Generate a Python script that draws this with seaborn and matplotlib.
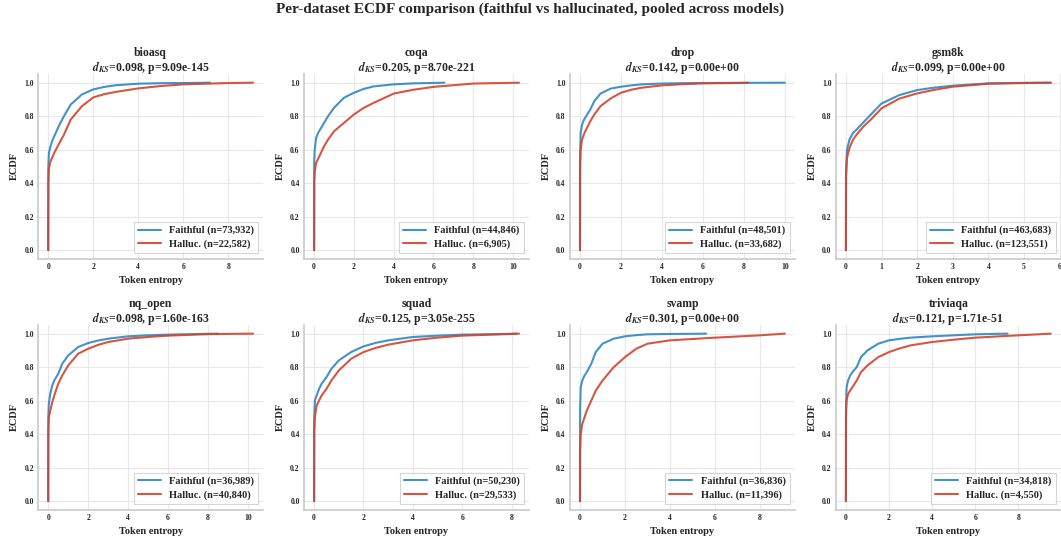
import numpy as np
import pandas as pd
import matplotlib
matplotlib.use("Agg")
import matplotlib.pyplot as plt
import seaborn as sns

# ---------------- data ----------------
DATASETS = ["bioasq", "coqa", "drop", "gsm8k", "nq_open", "squad", "svamp", "triviaqa"]
D_KS = [0.098, 0.205, 0.142, 0.099, 0.098, 0.125, 0.301, 0.121]
P_VALUES = ["9.09e-145", "8.70e-221", "0.00e+00", "0.00e+00",
            "1.60e-163", "3.05e-255", "0.00e+00", "1.71e-51"]
N_FAITHFUL = [73932, 44846, 48501, 463683, 36989, 50230, 36836, 34818]
N_HALLUC = [22582, 6905, 33682, 123551, 40840, 29533, 11396, 4550]

# shared entropy grid at which the ECDF was read
X_GRID = [0.0, 0.005, 0.03, 0.1, 0.2, 0.3, 0.5, 0.7, 1.0, 1.5, 2.0, 2.5, 3.0, 4.0, 5.0, 6.0, 8.0]

# faithful ECDF values on X_GRID (None = beyond the largest value)
FAITH_BIOASQ   = [0, .50, .58, .62, .66, .69, .75, .80, .87, .93, .96, .975, .985, .994, .997, .998, None]
FAITH_COQA     = [0, .52, .60, .67, .70, .72, .76, .80, .85, .91, .94, .963, .978, .99, .996, None, None]
FAITH_DROP     = [0, .55, .70, .75, .78, .80, .84, .89, .935, .965, .976, .984, .99, .995, .997, .998, .999]
FAITH_GSM8K    = [0, .48, .60, .66, .70, .72, .765, .81, .876, .926, .956, .971, .982, .996, .999, None, None]
FAITH_NQ_OPEN  = [0, .50, .58, .64, .69, .72, .76, .82, .87, .92, .944, .959, .97, .984, .99, .994, .999]
FAITH_SQUAD    = [0, .50, .60, .63, .67, .70, .74, .79, .84, .89, .924, .945, .96, .98, .988, .994, .999]
FAITH_SVAMP    = [0, .55, .68, .72, .75, .77, .82, .89, .94, .97, .984, .991, .996, .998, .999, None, None]
FAITH_TRIVIAQA = [0, .55, .68, .72, .75, .77, .80, .86, .90, .94, .96, .969, .976, .984, .99, .996, None]

# hallucinated ECDF values on X_GRID
HALL_BIOASQ   = [0, .40, .49, .53, .56, .59, .64, .69, .78, .86, .912, .932, .945, .966, .98, .99, .998]
HALL_COQA     = [0, .40, .47, .52, .545, .57, .62, .66, .71, .76, .81, .85, .88, .935, .958, .975, .995]
HALL_DROP     = [0, .50, .60, .66, .695, .72, .77, .81, .86, .906, .94, .958, .97, .984, .991, .996, .999]
HALL_GSM8K    = [0, .44, .55, .61, .66, .69, .74, .78, .847, .905, .936, .958, .976, .994, .998, None, None]
HALL_NQ_OPEN  = [0, .42, .50, .54, .59, .63, .70, .75, .81, .88, .91, .933, .95, .97, .98, .988, .997]
HALL_SQUAD    = [0, .42, .50, .57, .60, .63, .67, .72, .78, .85, .89, .915, .934, .96, .976, .988, .998]
HALL_SVAMP    = [0, .30, .40, .46, .50, .54, .60, .66, .72, .80, .86, .91, .94, .96, .968, .976, .99]
HALL_TRIVIAQA = [0, .50, .60, .64, .66, .68, .72, .77, .81, .86, .89, .912, .93, .95, .964, .976, .99]

# largest entropy observed in each group (ECDF reaches 1.0 there)
MAX_FAITH = [7.2, 6.55, 10.0, 5.75, 8.5, 8.2, 5.6, 7.5]
MAX_HALL = [9.1, 10.3, 8.2, 5.75, 10.25, 8.3, 9.1, 9.5]

FAITH_VALUES = [FAITH_BIOASQ, FAITH_COQA, FAITH_DROP, FAITH_GSM8K,
                FAITH_NQ_OPEN, FAITH_SQUAD, FAITH_SVAMP, FAITH_TRIVIAQA]
HALL_VALUES = [HALL_BIOASQ, HALL_COQA, HALL_DROP, HALL_GSM8K,
               HALL_NQ_OPEN, HALL_SQUAD, HALL_SVAMP, HALL_TRIVIAQA]

# ---------------- style ----------------
sns.set_theme(style="whitegrid")
plt.rcParams.update({
    "font.family": ["Liberation Serif", "DejaVu Serif"],
    "font.weight": "bold",
    "axes.labelweight": "bold",
    "axes.titleweight": "bold",
    "mathtext.fontset": "stix",
    "axes.edgecolor": "#cccccc",
    "grid.color": "#e8e8e8",
    "grid.linewidth": 0.8,
})

BLUE = "#2f86c3"
RED = "#d2442e"


def curve(values, xmax):
    xs, ys = [], []
    for x, y in zip(X_GRID, values):
        if y is None or x >= xmax:
            continue
        xs.append(x)
        ys.append(y)
    xs.append(xmax)
    ys.append(1.0)
    return xs, ys


fig, axes = plt.subplots(2, 4, figsize=(10.61, 5.37), dpi=100)
fig.subplots_adjust(left=0.0358, right=1.0, top=0.8616, bottom=0.0512,
                    wspace=0.18, hspace=0.362)

for i, name in enumerate(DATASETS):
    ax = axes.flat[i]
    fx, fy = curve(FAITH_VALUES[i], MAX_FAITH[i])
    hx, hy = curve(HALL_VALUES[i], MAX_HALL[i])
    lab_f = f"Faithful (n={N_FAITHFUL[i]:,})"
    lab_h = f"Halluc. (n={N_HALLUC[i]:,})"
    df = pd.DataFrame({
        "Token entropy": fx + hx,
        "ECDF": fy + hy,
        "group": [lab_f] * len(fx) + [lab_h] * len(hx),
    })
    sns.lineplot(data=df, x="Token entropy", y="ECDF", hue="group",
                 palette={lab_f: BLUE, lab_h: RED}, sort=False,
                 estimator=None, linewidth=1.5, alpha=0.9, ax=ax)
    ax.set_ylim(-0.05, 1.05)
    ax.set_yticks([0.0, 0.2, 0.4, 0.6, 0.8, 1.0])
    ax.tick_params(axis="x", labelsize=5.5, pad=3.5, length=0)
    ax.tick_params(axis="y", labelsize=5.5, pad=3, length=0)
    for lbl in ax.get_xticklabels() + ax.get_yticklabels():
        lbl.set_fontweight("bold")
    ax.set_xlabel("Token entropy", fontsize=7.5, fontweight="bold", labelpad=3)
    ax.set_ylabel("ECDF", fontsize=7.5, fontweight="bold", labelpad=4)
    ax.set_title(f"{name}\n$d_{{KS}}$={D_KS[i]:.3f}, p={P_VALUES[i]}",
                 fontsize=8.5, fontweight="bold", pad=2.5, linespacing=0.95)
    sns.despine(ax=ax)
    leg = ax.legend(loc="lower right", fontsize=7.5, frameon=True,
                    handlelength=2.2, borderpad=0.4, labelspacing=0.4,
                    fancybox=False)
    leg.get_frame().set_edgecolor("#cccccc")
    leg.get_frame().set_linewidth(0.8)
    for t in leg.get_texts():
        t.set_fontweight("bold")

fig.suptitle("Per-dataset ECDF comparison (faithful vs hallucinated, pooled across models)",
             fontsize=11, fontweight="bold", y=0.996)

fig.savefig("out.png", dpi=100)
